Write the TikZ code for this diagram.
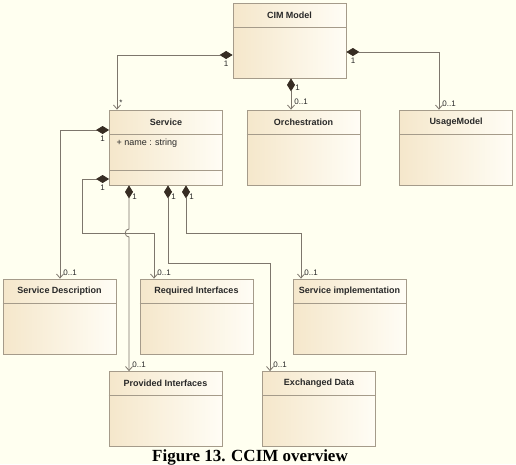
\documentclass[tikz,border=0pt]{standalone}
\usepackage{fontspec}
\setmainfont{Liberation Serif}
\setsansfont{Liberation Sans}
\usetikzlibrary{positioning,arrows.meta}

\definecolor{bgcol}{RGB}{255,255,240}
\definecolor{boxtan}{RGB}{245,231,203}
\definecolor{boxlight}{RGB}{255,253,245}
\definecolor{boxline}{RGB}{165,155,138}
\definecolor{linecol}{RGB}{125,118,108}
\definecolor{diacol}{RGB}{55,45,35}
\definecolor{titlecol}{RGB}{40,40,40}

\begin{document}
\begin{tikzpicture}[
    x=1pt, y=-1pt,
    classbox/.style={
        draw=boxline,
        line width=0.8pt,
        left color=boxtan,
        right color=boxlight,
        minimum width=113pt,
        minimum height=75pt,
        inner sep=0pt
    },
    title/.style={font=\sffamily\bfseries\fontsize{9}{10}\selectfont, text=titlecol},
    attr/.style={font=\sffamily\fontsize{9}{10}\selectfont, text=titlecol},
    mult/.style={font=\sffamily\fontsize{8}{9}\selectfont, text=titlecol, inner sep=0pt},
    assoc/.style={
        draw=linecol,
        line width=0.8pt,
        {Diamond[color=diacol, fill=diacol, length=13pt, width=8pt]}-{Straight Barb[length=4pt, width=7pt]}
    }
]

\fill[bgcol] (0,0) rectangle (516,464);
\useasboundingbox (0,0) rectangle (516,464);

% Boxes
\node[classbox] (cim) at (289.5,40.5) {};
\node[classbox] (srv) at (166,147.5) {};
\node[classbox] (orc) at (303.5,147.5) {};
\node[classbox] (usage) at (456,147.5) {};
\node[classbox] (sdesc) at (59.5,316.5) {};
\node[classbox] (reqif) at (196.5,316.5) {};
\node[classbox] (simpl) at (349.5,316.5) {};
\node[classbox] (provif) at (165.5,409) {};
\node[classbox] (exdata) at (319,409) {};

\foreach \b in {cim,srv,orc,usage,sdesc,reqif,simpl,provif,exdata}
    \draw[boxline, line width=0.8pt] ([yshift=-24.5pt]\b.north west) -- ([yshift=-24.5pt]\b.north east);
\draw[boxline, line width=0.8pt] ([yshift=-61pt]srv.north west) -- ([yshift=-61pt]srv.north east);

% Titles
\node[title] (cimt) at ([yshift=-12.5pt]cim.north) {CIM Model};
\node[title] (srvt) at ([yshift=-12.5pt]srv.north) {Service};
\node[title] (orct) at ([yshift=-12.5pt]orc.north) {Orchestration};
\node[title] (usaget) at ([yshift=-12.5pt]usage.north) {UsageModel};
\node[title] (sdesct) at ([yshift=-12.5pt]sdesc.north) {Service Description};
\node[title] (reqift) at ([yshift=-12.5pt]reqif.north) {Required Interfaces};
\node[title] (simplt) at ([yshift=-12.5pt]simpl.north) {Service implementation};
\node[title] (provift) at ([yshift=-12.5pt]provif.north) {Provided Interfaces};
\node[title] (exdatat) at ([yshift=-12.5pt]exdata.north) {Exchanged Data};

\node[attr, anchor=west] (srva) at ([xshift=4pt, yshift=-34pt]srv.north west) {+ name : string};

% bend levels
\coordinate (lvlA) at (0,233);
\coordinate (lvlB) at (0,263);
\coordinate (hopT) at (129,229);
\coordinate (hopB) at (129,237);

% CIM Model links
\draw[assoc] ([yshift=-14.5pt]cim.west) node[mult, below left=6pt and 4pt] {1}
    -| ([xshift=-49pt]srv.north) node[mult, above right=4pt and 2pt] {*};
\draw[assoc] ([xshift=1.5pt]cim.south) node[mult, below right=6pt and 4pt] {1}
    -- ([xshift=-12.5pt]orc.north) node[mult, above right=5pt and 3pt] {0..1};
\draw[assoc] ([yshift=-11.5pt]cim.east) node[mult, below right=6pt and 4pt] {1}
    -| ([xshift=-17pt]usage.north) node[mult, above right=3pt and 3pt] {0..1};

% Service links
\draw[assoc] ([yshift=17.5pt]srv.west) node[mult, below left=6pt and 4pt] {1}
    -| ([xshift=0.5pt]sdesc.north) node[mult, above right=3pt and 3pt] {0..1};
\draw[assoc] ([yshift=-31.5pt]srv.west) node[mult, below left=6pt and 4pt] {1}
    -- ++(-27,0) |- ([xshift=-42.5pt]reqif.north |- lvlA)
    -- ([xshift=-42.5pt]reqif.north) node[mult, above right=3pt and 3pt] {0..1};
\draw[assoc] ([xshift=-37pt]srv.south) node[mult, below right=8pt and 3pt] {1}
    -- (hopT) .. controls +(-5,0) and +(-5,0) .. (hopB)
    -- ([xshift=-36.5pt]provif.north) node[mult, above right=3pt and 3pt] {0..1};
\draw[assoc] ([xshift=2pt]srv.south) node[mult, below right=8pt and 3pt] {1}
    |- ([xshift=-49pt]exdata.north |- lvlB)
    -- ([xshift=-49pt]exdata.north) node[mult, above right=3pt and 3pt] {0..1};
\draw[assoc] ([xshift=20pt]srv.south) node[mult, below right=8pt and 3pt] {1}
    |- ([xshift=-48.5pt]simpl.north |- lvlA)
    -- ([xshift=-48.5pt]simpl.north) node[mult, above right=3pt and 3pt] {0..1};

% Caption
\node[font=\bfseries\fontsize{17}{19}\selectfont, anchor=base] (cap) at (250,461) {Figure 13. CCIM overview};

\end{tikzpicture}
\end{document}
